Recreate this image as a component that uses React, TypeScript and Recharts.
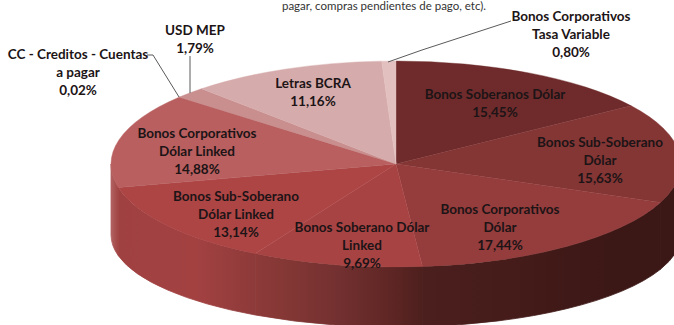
import React from 'react';
import { PieChart, Pie, Cell } from 'recharts';

const categories = [
  'Bonos Soberanos Dólar',
  'Bonos Sub-Soberano Dólar',
  'Bonos Corporativos Dólar',
  'Bonos Soberano Dólar Linked',
  'Bonos Sub-Soberano Dólar Linked',
  'Bonos Corporativos Dólar Linked',
  'CC - Creditos - Cuentas a pagar',
  'USD MEP',
  'Letras BCRA',
  'Bonos Corporativos Tasa Variable',
];
const shares = [15.45, 15.63, 17.44, 9.69, 13.14, 14.88, 0.02, 1.79, 11.16, 0.8];
const shareLabels = ['15,45%', '15,63%', '17,44%', '9,69%', '13,14%', '14,88%', '0,02%', '1,79%', '11,16%', '0,80%'];
const labelLines = [
  ['Bonos Soberanos Dólar'],
  ['Bonos Sub-Soberano', 'Dólar'],
  ['Bonos Corporativos', 'Dólar'],
  ['Bonos Soberano Dólar', 'Linked'],
  ['Bonos Sub-Soberano', 'Dólar Linked'],
  ['Bonos Corporativos', 'Dólar Linked'],
  ['CC - Creditos - Cuentas', 'a pagar'],
  ['USD MEP'],
  ['Letras BCRA'],
  ['Bonos Corporativos', 'Tasa Variable'],
];
const colors = ['#6f2b2b', '#843635', '#953c3c', '#a84343', '#ad4545', '#b95f5f', '#b95f5f', '#c98e8e', '#d6abab', '#e2c0c0'];

const rows = categories.map((name, i) => ({ name, value: shares[i] }));

// layout of the text, not data
const labelX = [495, 600, 500, 362, 236, 197, 78, 195, 313, 571];
const labelY = [96, 144, 211, 229, 198, 135, 56, 32, 85, 18];
const LINE_H = 17.7;
const leaders: Record<number, string> = {
  6: '147,55 153,55 179,97',
  7: '190,56 190,93',
  9: '511,21 422,50 388,62',
};

const W = 674;
const H = 325;
const CX = 396;
const CY = 164;
const RX = 285;
const TILT = 103 / 285;
// the lower rim is a flatter ellipse, perspective from the original 3D chart
const BASE_CY = 235;
const BASE_RY = 92;

const pt = (cx: number, cy: number, rx: number, ry: number, deg: number) => {
  const a = (deg * Math.PI) / 180;
  return [cx + rx * Math.cos(a), cy - ry * Math.sin(a)];
};

function TopFace(props: any) {
  const { cx, cy, outerRadius: r, startAngle, endAngle, fill } = props;
  const ry = r * TILT;
  const [x1, y1] = pt(cx, cy, r, ry, startAngle);
  const [x2, y2] = pt(cx, cy, r, ry, endAngle);
  const large = Math.abs(startAngle - endAngle) > 180 ? 1 : 0;
  return <path d={`M${cx},${cy}L${x1},${y1}A${r},${ry} 0 ${large} 1 ${x2},${y2}Z`} fill={fill} stroke={fill} strokeWidth={0.4} />;
}

// side wall, only the front half of the ellipse shows it
function Wall(props: any) {
  const { cx, cy, outerRadius: r, startAngle, endAngle } = props;
  const hi = Math.min(startAngle, 0);
  const lo = Math.max(endAngle, -180);
  if (lo >= hi) return null;
  const ry = r * TILT;
  const [x1, y1] = pt(cx, cy, r, ry, hi);
  const [x2, y2] = pt(cx, cy, r, ry, lo);
  const [x3, y3] = pt(cx, BASE_CY, r, BASE_RY, lo);
  const [x4, y4] = pt(cx, BASE_CY, r, BASE_RY, hi);
  return (
    <path
      d={`M${x1},${y1}A${r},${ry} 0 0 1 ${x2},${y2}L${x3},${y3}A${r},${BASE_RY} 0 0 0 ${x4},${y4}Z`}
      fill="url(#wallShade)"
      stroke="url(#wallShade)"
      strokeWidth={0.8}
    />
  );
}

function SliceLabel(props: any) {
  const i = props.index;
  const lines = [...labelLines[i], shareLabels[i]];
  return (
    <g>
      {leaders[i] && <polyline points={leaders[i]} fill="none" stroke="#5a5a5a" strokeWidth={1} />}
      <text x={labelX[i]} y={labelY[i]} textAnchor="middle" fontFamily="Lato" fontWeight={700} fontSize={13.5} fill="#1c1416">
        {lines.map((t, k) => (
          <tspan key={k} x={labelX[i]} y={labelY[i] + k * LINE_H} dominantBaseline="middle">
            {t}
          </tspan>
        ))}
      </text>
    </g>
  );
}

export default function App() {
  return (
    <div style={{ position: 'absolute', left: 0, top: 0, width: W, height: H, overflow: 'hidden', background: '#fff' }}>
      <PieChart width={W} height={H} margin={{ top: 0, right: 0, bottom: 0, left: 0 }}>
        <defs>
          <linearGradient id="wallShade" gradientUnits="userSpaceOnUse" x1={111} y1={0} x2={681} y2={0}>
            <stop offset="0" stopColor="#b16262" />
            <stop offset="0.014" stopColor="#a04141" />
            <stop offset="0.15" stopColor="#a34141" />
            <stop offset="0.25" stopColor="#8e3a3a" />
            <stop offset="0.3" stopColor="#853835" />
            <stop offset="0.4" stopColor="#733030" />
            <stop offset="0.5" stopColor="#5c2523" />
            <stop offset="0.55" stopColor="#4b1f1d" />
            <stop offset="0.7" stopColor="#451c1a" />
            <stop offset="0.88" stopColor="#3b1715" />
            <stop offset="1" stopColor="#3b1715" />
          </linearGradient>
        </defs>
        <Pie
          data={rows}
          dataKey="value"
          nameKey="name"
          cx={CX}
          cy={CY}
          innerRadius={0}
          outerRadius={RX}
          startAngle={90}
          endAngle={-270}
          stroke="none"
          shape={Wall}
          isAnimationActive={false}
        />
        <Pie
          data={rows}
          dataKey="value"
          nameKey="name"
          cx={CX}
          cy={CY}
          innerRadius={0}
          outerRadius={RX}
          startAngle={90}
          endAngle={-270}
          stroke="none"
          shape={TopFace}
          label={SliceLabel}
          labelLine={false}
          isAnimationActive={false}
        >
          {rows.map((r, i) => (
            <Cell key={r.name} fill={colors[i]} />
          ))}
        </Pie>
        <text x={384} y={10} textAnchor="middle" fontFamily="Lato" fontSize={11.5} fill="#333">
          pagar, compras pendientes de pago, etc).
        </text>
      </PieChart>
    </div>
  );
}
